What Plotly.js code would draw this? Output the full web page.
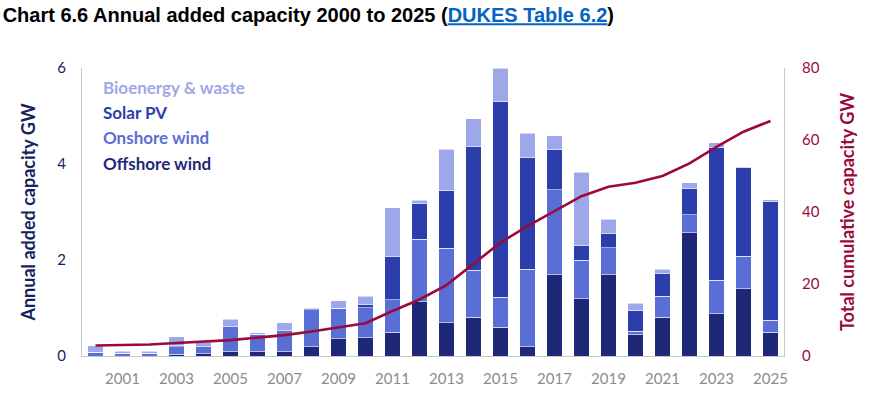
<!DOCTYPE html>
<html>
<head>
<meta charset="utf-8">
<script src="https://cdn.plot.ly/plotly-3.0.1.min.js"></script>
<style>
  html, body { margin: 0; padding: 0; background: #fff; }
  #chart { width: 887px; height: 402px; }
</style>
</head>
<body>
<div id="chart"></div>
<script>
// ── Data (GW) ─────────────────────────────────────────────────────────────────
const YEARS = [2000,2001,2002,2003,2004,2005,2006,2007,2008,2009,2010,2011,2012,
               2013,2014,2015,2016,2017,2018,2019,2020,2021,2022,2023,2024,2025];

const OFFSHORE = [0,0,0,0.04,0.05,0.09,0.09,0.09,0.19,0.36,0.38,0.49,1.13,
                  0.69,0.81,0.60,0.19,1.69,1.19,1.69,0.44,0.81,2.57,0.88,1.40,0.50];
const ONSHORE  = [0.08,0.06,0.06,0.15,0.14,0.52,0.36,0.44,0.77,0.63,0.63,0.68,1.30,
                  1.56,0.98,0.62,1.62,1.77,0.81,0.57,0.08,0.44,0.37,0.70,0.68,0.25];
const SOLAR    = [0,0,0,0.02,0,0.01,0,0,0.02,0,0.06,0.90,0.74,
                  1.19,2.57,4.08,2.32,0.84,0.31,0.30,0.42,0.47,0.55,2.77,1.84,2.46];
const BIO      = [0.13,0.04,0.04,0.19,0.10,0.15,0.03,0.16,0.03,0.16,0.18,1.02,0.08,
                  0.87,0.58,0.69,0.51,0.29,1.52,0.29,0.16,0.09,0.12,0.09,0.02,0.05];
const CUMULATIVE = [2.9,3.0,3.2,3.6,3.9,4.4,5.1,5.8,6.8,8.0,9.1,12.5,15.7,
                    19.7,25.7,31.5,36.1,40.3,44.4,47.0,48.1,50.0,53.5,58.1,62.3,65.3];

const X_TICKS = [2001,2003,2005,2007,2009,2011,2013,2015,2017,2019,2021,2023,2025];

const SERIES = [
  { name: 'Offshore wind',     y: OFFSHORE, color: '#1f2877' },
  { name: 'Onshore wind',      y: ONSHORE,  color: '#5a6fd6' },
  { name: 'Solar PV',          y: SOLAR,    color: '#2b3eab' },
  { name: 'Bioenergy & waste', y: BIO,      color: '#9ea8e8' },
];

const FONT = 'Lato, "Open Sans", sans-serif';
const NAVY = '#14235e';
const MAROON = '#9a0a3c';

// ── Traces ────────────────────────────────────────────────────────────────────
const traces = SERIES.map(s => ({
  type: 'bar', x: YEARS, y: s.y, name: s.name,
  marker: { color: s.color, line: { color: 'rgba(255,255,255,0.55)', width: 1 } },
  width: 0.56,
  hovertemplate: `${s.name}<br>%{x}: %{y:.2f} GW<extra></extra>`,
}));

traces.push({
  type: 'scatter', mode: 'lines', x: YEARS, y: CUMULATIVE, yaxis: 'y2',
  name: 'Total cumulative capacity',
  line: { color: MAROON, width: 2.6 },
  hovertemplate: '%{x}: %{y:.1f} GW<extra></extra>',
});

// legend drawn as coloured text, top of stack first
const legendRows = [
  ['Bioenergy & waste', '#9ea8e8', 0.931],
  ['Solar PV',          '#2b3eab', 0.847],
  ['Onshore wind',      '#5a6fd6', 0.760],
  ['Offshore wind',     '#1f2877', 0.670],
];
const annotations = legendRows.map(([text, color, y]) => ({
  text: `<b>${text}</b>`, x: 0.027, y, xref: 'paper', yref: 'paper',
  xanchor: 'left', yanchor: 'middle', showarrow: false,
  font: { family: FONT, size: 17, color },
}));

Plotly.newPlot('chart', traces, {
  width: 887, height: 402,
  paper_bgcolor: '#fff', plot_bgcolor: '#fff',
  margin: { l: 82, r: 103, t: 68, b: 46 },
  barmode: 'stack',
  showlegend: false,
  font: { family: FONT },
  title: {
    text: '<b>Chart 6.6 Annual added capacity 2000 to 2025 (<a href="#" style="color:#0563c1;text-decoration:underline">DUKES Table 6.2</a>)</b>',
    x: 0.003, xanchor: 'left', xref: 'container',
    y: 0.962, yanchor: 'middle', yref: 'container',
    font: { family: '"Liberation Sans", Arial, sans-serif', size: 20, color: '#000' },
  },
  xaxis: {
    range: [1999.5, 2025.5], tickvals: X_TICKS, ticktext: X_TICKS.map(String),
    showgrid: false, zeroline: false, showline: true, linecolor: '#c8c8c8', linewidth: 1,
    ticks: '', ticklabelstandoff: 9,
    tickfont: { family: FONT, size: 15, color: '#8c8c8c' },
  },
  yaxis: {
    range: [0, 6], dtick: 2, showgrid: false, zeroline: false,
    showline: true, linecolor: '#c8c8c8', linewidth: 1, ticks: '',
    ticklabelstandoff: 12,
    tickfont: { family: FONT, size: 15, color: NAVY },
    title: { text: '<b>Annual added capacity GW</b>', standoff: 16,
             font: { family: FONT, size: 18, color: NAVY } },
  },
  yaxis2: {
    overlaying: 'y', side: 'right', range: [0, 80], dtick: 20,
    showgrid: false, zeroline: false, showline: true, linecolor: '#c8c8c8', linewidth: 1,
    ticks: '', ticklabelstandoff: 14,
    tickfont: { family: FONT, size: 15, color: MAROON },
    title: { text: '<b>Total cumulative capacity GW</b>', standoff: 22,
             font: { family: FONT, size: 18, color: MAROON } },
  },
  annotations,
}, { displayModeBar: false });
</script>
</body>
</html>
